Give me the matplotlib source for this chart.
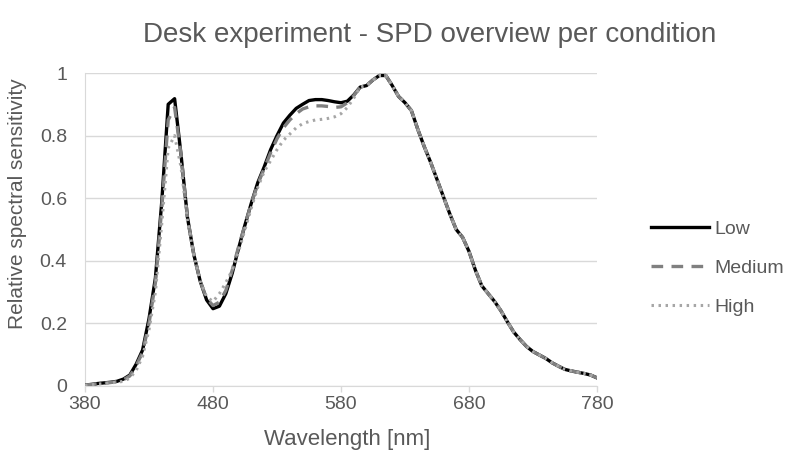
import numpy as np
import matplotlib
matplotlib.use("Agg")
import matplotlib.pyplot as plt

plt.rcParams['font.family'] = ['Liberation Sans', 'DejaVu Sans']

wavelength = list(range(380, 781, 5))

low = [0.003, 0.005, 0.008, 0.010, 0.012, 0.015, 0.022, 0.035, 0.070, 0.115,
       0.215, 0.345, 0.590, 0.900, 0.918, 0.740, 0.540, 0.420, 0.335, 0.275,
       0.247, 0.255, 0.295, 0.360, 0.440, 0.515, 0.585, 0.650, 0.700, 0.755,
       0.800, 0.840, 0.865, 0.887, 0.900, 0.912, 0.915, 0.915, 0.912, 0.908,
       0.905, 0.910, 0.930, 0.955, 0.960, 0.978, 0.992, 0.992, 0.960, 0.925,
       0.905, 0.880, 0.820, 0.765, 0.715, 0.660, 0.605, 0.550, 0.500, 0.475,
       0.430, 0.370, 0.320, 0.295, 0.270, 0.240, 0.205, 0.172, 0.148, 0.126,
       0.110, 0.099, 0.088, 0.074, 0.063, 0.053, 0.048, 0.044, 0.040, 0.035,
       0.026]

medium = [0.003, 0.005, 0.007, 0.009, 0.011, 0.014, 0.020, 0.032, 0.065, 0.108,
          0.200, 0.330, 0.570, 0.850, 0.890, 0.740, 0.540, 0.420, 0.335, 0.280,
          0.257, 0.268, 0.305, 0.370, 0.445, 0.515, 0.585, 0.645, 0.695, 0.745,
          0.790, 0.825, 0.850, 0.870, 0.885, 0.892, 0.895, 0.895, 0.893, 0.890,
          0.892, 0.905, 0.928, 0.955, 0.960, 0.978, 0.992, 0.992, 0.960, 0.925,
          0.905, 0.880, 0.820, 0.765, 0.715, 0.660, 0.605, 0.550, 0.500, 0.475,
          0.430, 0.370, 0.320, 0.295, 0.270, 0.240, 0.205, 0.172, 0.148, 0.126,
          0.110, 0.099, 0.088, 0.074, 0.063, 0.053, 0.048, 0.044, 0.040, 0.035,
          0.026]

high = [0.002, 0.004, 0.006, 0.008, 0.010, 0.012, 0.015, 0.025, 0.050, 0.095,
        0.180, 0.300, 0.520, 0.760, 0.800, 0.700, 0.530, 0.420, 0.335, 0.285,
        0.270, 0.295, 0.330, 0.370, 0.430, 0.500, 0.570, 0.635, 0.685, 0.720,
        0.755, 0.785, 0.805, 0.825, 0.838, 0.845, 0.850, 0.852, 0.855, 0.860,
        0.870, 0.890, 0.920, 0.955, 0.960, 0.978, 0.992, 0.992, 0.960, 0.925,
        0.905, 0.880, 0.820, 0.765, 0.715, 0.660, 0.605, 0.550, 0.500, 0.475,
        0.430, 0.370, 0.320, 0.295, 0.270, 0.240, 0.205, 0.172, 0.148, 0.126,
        0.110, 0.099, 0.088, 0.074, 0.063, 0.053, 0.048, 0.044, 0.040, 0.035,
        0.026]

x_ticks = [380, 480, 580, 680, 780]
y_ticks = [0, 0.2, 0.4, 0.6, 0.8, 1]
y_tick_labels = ["0", "0.2", "0.4", "0.6", "0.8", "1"]

text_color = "#595959"
grid_color = "#d9d9d9"

fig = plt.figure(figsize=(7.93, 4.62), dpi=100)
ax = fig.add_axes([85 / 793, 1 - 386 / 462, 512 / 793, 313 / 462])

ax.plot(wavelength, low, color="black", lw=2.4, label="Low", zorder=3)
ax.plot(wavelength, medium, color="#808080", lw=2.4, ls=(0, (3.5, 2.5)),
        label="Medium", zorder=4)
ax.plot(wavelength, high, color="#a6a6a6", lw=2.2, ls=(0, (0.8, 1.5)),
        label="High", zorder=5)

ax.set_xlim(380, 780)
ax.set_ylim(0, 1)
ax.set_xticks(x_ticks)
ax.set_yticks(y_ticks)
ax.set_yticklabels(y_tick_labels)
ax.grid(axis="y", color=grid_color, lw=1)
ax.set_axisbelow(True)

for side in ["top", "right"]:
    ax.spines[side].set_visible(False)
ax.spines["left"].set_color(grid_color)
ax.spines["bottom"].set_color(grid_color)

ax.tick_params(axis="x", colors=grid_color, length=4, width=1, pad=3,
               labelsize=14, labelcolor=text_color)
ax.tick_params(axis="y", length=0, pad=13, labelsize=14, labelcolor=text_color)

fig.text(430 / 793, 1 - 35 / 462, "Desk experiment - SPD overview per condition",
         ha="center", va="center", fontsize=20, color=text_color)
fig.text(347 / 793, 1 - 440 / 462, "Wavelength [nm]",
         ha="center", va="center", fontsize=16, color=text_color)
fig.text(18 / 793, 1 - 204 / 462, "Relative spectral sensitivity",
         ha="center", va="center", rotation=90, fontsize=15, color=text_color)

leg = ax.legend(loc="center left", bbox_to_anchor=(651 / 793, 1 - 268 / 462),
                bbox_transform=fig.transFigure, frameon=False, fontsize=14,
                handlelength=3.0, handletextpad=0.25, labelspacing=1.1,
                borderpad=0, borderaxespad=0)
for t in leg.get_texts():
    t.set_color(text_color)

fig.savefig("out.png", dpi=100)
